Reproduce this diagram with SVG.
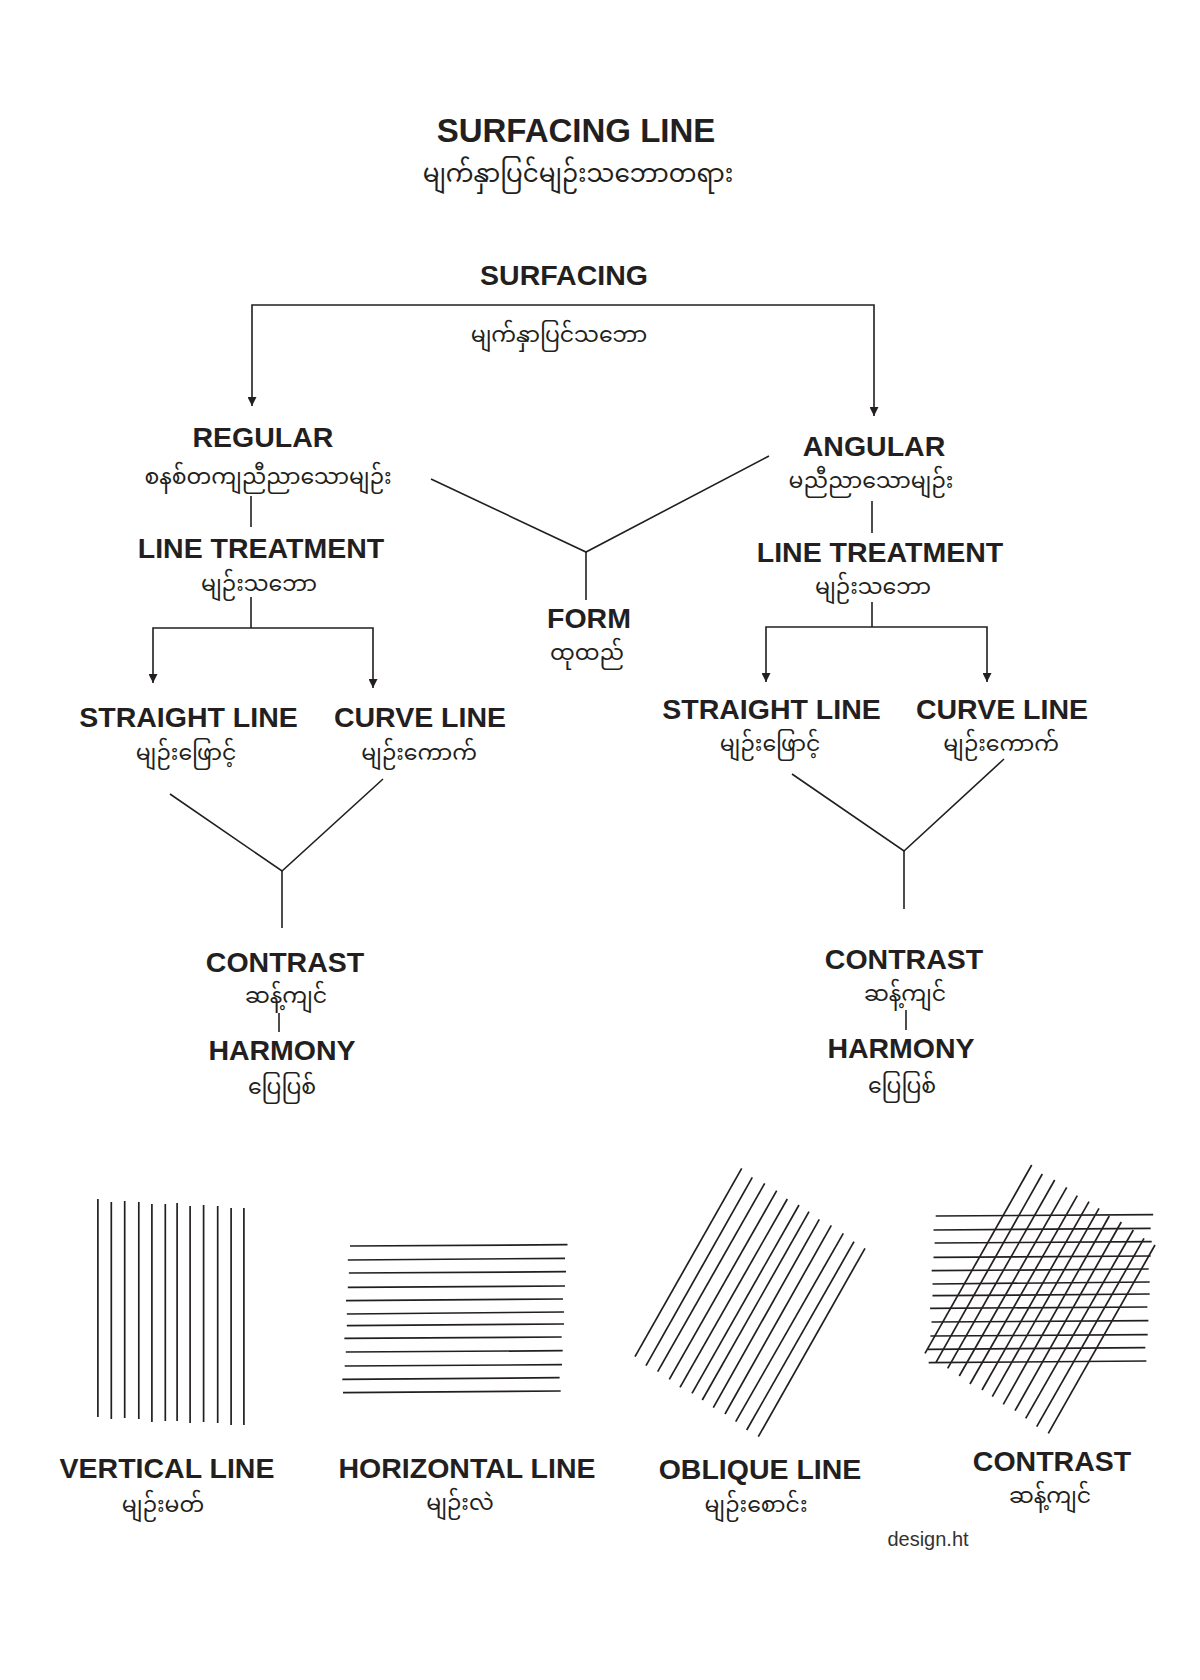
<svg xmlns="http://www.w3.org/2000/svg" xmlns:xlink="http://www.w3.org/1999/xlink" width="1200" height="1680" viewBox="0 0 1200 1680">
<style>
.en{font-family:"Liberation Sans",Arial,sans-serif;font-weight:bold;font-size:28.5px;fill:#231f20;text-anchor:middle}
.tt{font-size:33px}
.my{font-family:"Noto Sans Myanmar","Padauk","Myanmar Text","Myanmar3","Noto Sans",sans-serif;font-size:22px;fill:#231f20;text-anchor:middle}
.my.big{font-size:24.7px}
.ln{stroke:#231f20;stroke-width:1.6;fill:none}
.ht{stroke:#231f20;stroke-width:1.7;fill:none}
.credit{font-family:"Liberation Sans",Arial,sans-serif;font-size:20px;fill:#333;text-anchor:middle}
</style>
<defs>
<marker id="ah" viewBox="0 0 10 10" refX="10" refY="5" markerWidth="10" markerHeight="9" markerUnits="userSpaceOnUse" orient="auto">
<path d="M0,0 L10,5 L0,10 z" fill="#231f20"/>
</marker>
<g id="hset" class="ht">
<line x1="350" y1="1246" x2="567.5" y2="1244.7"/>
<line x1="347.8" y1="1260" x2="565" y2="1258.3"/>
<line x1="348.9" y1="1273" x2="566" y2="1271.7"/>
<line x1="347.8" y1="1287.3" x2="565" y2="1286"/>
<line x1="346" y1="1300.7" x2="563" y2="1299"/>
<line x1="346.8" y1="1314" x2="564" y2="1312"/>
<line x1="346.8" y1="1325.7" x2="564" y2="1324"/>
<line x1="344.4" y1="1338.3" x2="561.7" y2="1337"/>
<line x1="345.8" y1="1352" x2="562.7" y2="1350.7"/>
<line x1="344.7" y1="1366" x2="562" y2="1364.7"/>
<line x1="342.3" y1="1379.3" x2="559.6" y2="1377.7"/>
<line x1="343" y1="1392.7" x2="560.7" y2="1391"/>
</g>
<g id="oset" class="ht">
<line x1="741.7" y1="1168.3" x2="635" y2="1356.7"/>
<line x1="752.3" y1="1177.3" x2="646" y2="1365.7"/>
<line x1="764.7" y1="1183.3" x2="657.7" y2="1371.7"/>
<line x1="776.7" y1="1190.7" x2="669.3" y2="1379.3"/>
<line x1="787.3" y1="1199" x2="680" y2="1387.3"/>
<line x1="799" y1="1205" x2="692" y2="1393.3"/>
<line x1="809" y1="1211.7" x2="702.3" y2="1400"/>
<line x1="819.3" y1="1219.3" x2="713.3" y2="1407.7"/>
<line x1="831.3" y1="1225.3" x2="725" y2="1414"/>
<line x1="843.3" y1="1233.3" x2="735.7" y2="1421.7"/>
<line x1="854" y1="1241.7" x2="746.7" y2="1430"/>
<line x1="865" y1="1248.3" x2="758.3" y2="1436.7"/>
</g>
</defs>
<rect width="1200" height="1680" fill="#ffffff"/>

<g id="title">
<text class="en tt" x="576" y="142">SURFACING LINE</text>
<text class="my big" x="578" y="182">မျက်နှာပြင်မျဉ်းသဘောတရား</text>
</g>

<g id="connectors">
<polyline class="ln" points="563,305 252,305 252,406" marker-end="url(#ah)"/>
<polyline class="ln" points="563,305 874,305 874,416" marker-end="url(#ah)"/>
<line class="ln" x1="251" y1="496" x2="251" y2="527"/>
<line class="ln" x1="251" y1="597" x2="251" y2="628"/>
<polyline class="ln" points="251,628 153,628 153,683" marker-end="url(#ah)"/>
<polyline class="ln" points="251,628 373,628 373,688" marker-end="url(#ah)"/>
<polyline class="ln" points="431,479 586,552 769,456"/>
<line class="ln" x1="586" y1="552" x2="586" y2="600"/>
<line class="ln" x1="872" y1="501" x2="872" y2="533"/>
<line class="ln" x1="872" y1="602" x2="872" y2="627"/>
<polyline class="ln" points="872,627 766,627 766,682" marker-end="url(#ah)"/>
<polyline class="ln" points="872,627 987,627 987,682" marker-end="url(#ah)"/>
<polyline class="ln" points="170,794 282,871 383,779"/>
<line class="ln" x1="282" y1="871" x2="282" y2="928"/>
<line class="ln" x1="279" y1="1013" x2="279" y2="1032"/>
<polyline class="ln" points="792,774 904,851 1004,759"/>
<line class="ln" x1="904" y1="851" x2="904" y2="909"/>
<line class="ln" x1="906" y1="1010" x2="906" y2="1030"/>
</g>

<g id="surfacing">
<text class="en" x="564" y="285">SURFACING</text>
<text class="my" x="559" y="342">မျက်နှာပြင်သဘော</text>
</g>
<g id="regular">
<text class="en" x="263" y="447">REGULAR</text>
<text class="my" x="268" y="484">စနစ်တကျညီညာသောမျဉ်း</text>
</g>
<g id="angular">
<text class="en" x="874" y="456">ANGULAR</text>
<text class="my" x="871" y="488">မညီညာသောမျဉ်း</text>
</g>
<g id="lt-left">
<text class="en" x="261" y="558">LINE TREATMENT</text>
<text class="my" x="259" y="591">မျဉ်းသဘော</text>
</g>
<g id="lt-right">
<text class="en" x="880" y="562">LINE TREATMENT</text>
<text class="my" x="873" y="594">မျဉ်းသဘော</text>
</g>
<g id="form">
<text class="en" x="589" y="628">FORM</text>
<text class="my" x="587" y="660">ထုထည်</text>
</g>
<g id="straight-left">
<text class="en" x="188.5" y="727">STRAIGHT LINE</text>
<text class="my" x="186" y="760">မျဉ်းဖြောင့်</text>
</g>
<g id="curve-left">
<text class="en" x="420" y="727">CURVE LINE</text>
<text class="my" x="419" y="760">မျဉ်းကောက်</text>
</g>
<g id="straight-right">
<text class="en" x="771.5" y="719">STRAIGHT LINE</text>
<text class="my" x="770" y="751">မျဉ်းဖြောင့်</text>
</g>
<g id="curve-right">
<text class="en" x="1002" y="719">CURVE LINE</text>
<text class="my" x="1001" y="751">မျဉ်းကောက်</text>
</g>
<g id="contrast-left">
<text class="en" x="285" y="972">CONTRAST</text>
<text class="my" x="286" y="1003">ဆန့်ကျင်</text>
</g>
<g id="harmony-left">
<text class="en" x="282" y="1060">HARMONY</text>
<text class="my" x="282" y="1094">ပြေပြစ်</text>
</g>
<g id="contrast-right">
<text class="en" x="904" y="969">CONTRAST</text>
<text class="my" x="905" y="1001">ဆန့်ကျင်</text>
</g>
<g id="harmony-right">
<text class="en" x="901" y="1058">HARMONY</text>
<text class="my" x="902" y="1093">ပြေပြစ်</text>
</g>

<g id="vertical-panel">
<g class="ht">
<line x1="97.9" y1="1199" x2="97.9" y2="1417"/>
<line x1="111.3" y1="1202" x2="111.3" y2="1419"/>
<line x1="124.7" y1="1201" x2="124.7" y2="1418"/>
<line x1="138.8" y1="1202" x2="138.8" y2="1419"/>
<line x1="151.9" y1="1204" x2="151.9" y2="1422"/>
<line x1="165.3" y1="1204" x2="165.3" y2="1421"/>
<line x1="177.1" y1="1203" x2="177.1" y2="1421"/>
<line x1="190.1" y1="1206" x2="190.1" y2="1423"/>
<line x1="203.6" y1="1205" x2="203.6" y2="1422"/>
<line x1="217.7" y1="1206" x2="217.7" y2="1423"/>
<line x1="231.1" y1="1208" x2="231.1" y2="1425"/>
<line x1="243.9" y1="1208" x2="243.9" y2="1425"/>
</g>
<text class="en" x="167" y="1478">VERTICAL LINE</text>
<text class="my" x="163" y="1512">မျဉ်းမတ်</text>
</g>
<g id="horizontal-panel">
<use xlink:href="#hset" href="#hset"/>
<text class="en" x="467" y="1478">HORIZONTAL LINE</text>
<text class="my" x="460" y="1510">မျဉ်းလဲ</text>
</g>
<g id="oblique-panel">
<use xlink:href="#oset" href="#oset"/>
<text class="en" x="760" y="1479">OBLIQUE LINE</text>
<text class="my" x="756" y="1512">မျဉ်းစောင်း</text>
</g>
<g id="contrast-panel">
<use xlink:href="#hset" href="#hset" transform="translate(585.7,-30)"/>
<use xlink:href="#oset" href="#oset" transform="translate(290,-3.3)"/>
<text class="en" x="1052" y="1471">CONTRAST</text>
<text class="my" x="1050" y="1503">ဆန့်ကျင်</text>
</g>
<text class="credit" x="928" y="1546">design.ht</text>
</svg>
